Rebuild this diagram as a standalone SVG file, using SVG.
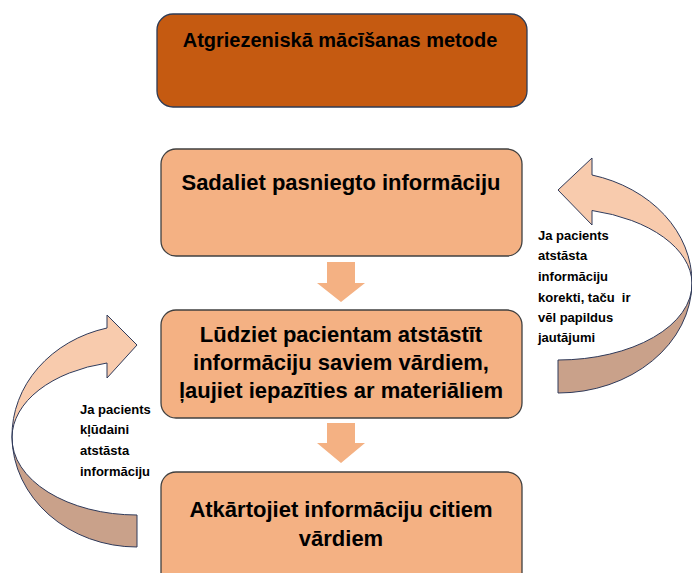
<svg xmlns="http://www.w3.org/2000/svg" width="692" height="573" viewBox="0 0 692 573">
<style>
.box{fill:#F4B183;stroke:#404040;stroke-width:1.3}
.title{fill:#C55A11;stroke:#2E3B55;stroke-width:1.3}
.t{font-family:"Liberation Sans",Arial,sans-serif;font-weight:bold;font-size:22px;fill:#000;text-anchor:middle}
.tt{font-size:20px}
.lbl{font-family:"Liberation Sans",Arial,sans-serif;font-weight:bold;font-size:13px;fill:#000}
.down{fill:#F4B183;stroke:none}
.cl{fill:#F8CBAD;stroke:#2F3A5A;stroke-width:1}
.cd{fill:#C9A18A;stroke:#2F3A5A;stroke-width:1}
</style>
<rect width="692" height="573" fill="#fff"/>
<g id="title">
<rect class="title" x="157" y="14" width="370" height="93" rx="16"/>
<text class="t tt" x="340" y="47">Atgriezeniskā mācīšanas metode</text>
</g>
<g id="step1">
<rect class="box" x="161" y="149" width="361" height="107" rx="15"/>
<text class="t" x="341" y="190">Sadaliet pasniegto informāciju</text>
</g>
<g id="step2">
<rect class="box" x="161" y="310" width="361" height="108" rx="15"/>
<text class="t" x="341" y="342">Lūdziet pacientam atstāstīt</text>
<text class="t" x="341" y="370">informāciju saviem vārdiem,</text>
<text class="t" x="341" y="398">ļaujiet iepazīties ar materiāliem</text>
</g>
<g id="step3">
<rect class="box" x="161" y="472" width="361" height="130" rx="15"/>
<text class="t" x="341" y="517">Atkārtojiet informāciju citiem</text>
<text class="t" x="341" y="546">vārdiem</text>
</g>
<g id="connectors">
<path class="down" d="M327,262 L355,262 L355,283 L365,283 L341,302 L317,283 L327,283 Z"/>
<path class="down" d="M327,423 L355,423 L355,443 L365,443 L341,463 L317,443 L327,443 Z"/>
<g id="loop-right">
<path class="cd" d="M692,283 A134,111 0 0,1 558,393 L558,360 A134,76 0 0,0 692,283 Z"/>
<path class="cl" d="M558,190 L592,158 L592,175 A134,111 0 0,1 692,283 A134,76 0 0,0 592,210.5 L592,225 Z"/>
</g>
<g id="loop-left">
<path class="cd" d="M12,437 A125,111 0 0,0 137,547 L137,515 A125,77 0 0,1 12,437 Z"/>
<path class="cl" d="M137,345 L107,315 L107,328 A125,111 0 0,0 12,437 A125,77 0 0,1 107,363 L107,378 Z"/>
</g>
</g>
<g id="label-right">
<text class="lbl" x="538" y="240">Ja pacients</text>
<text class="lbl" x="538" y="260">atstāsta</text>
<text class="lbl" x="538" y="281">informāciju</text>
<text class="lbl" x="538" y="302" xml:space="preserve">korekti, taču  ir</text>
<text class="lbl" x="538" y="322">vēl papildus</text>
<text class="lbl" x="538" y="342">jautājumi</text>
</g>
<g id="label-left">
<text class="lbl" x="80" y="414">Ja pacients</text>
<text class="lbl" x="80" y="434">kļūdaini</text>
<text class="lbl" x="80" y="455">atstāsta</text>
<text class="lbl" x="80" y="476">informāciju</text>
</g>
</svg>
